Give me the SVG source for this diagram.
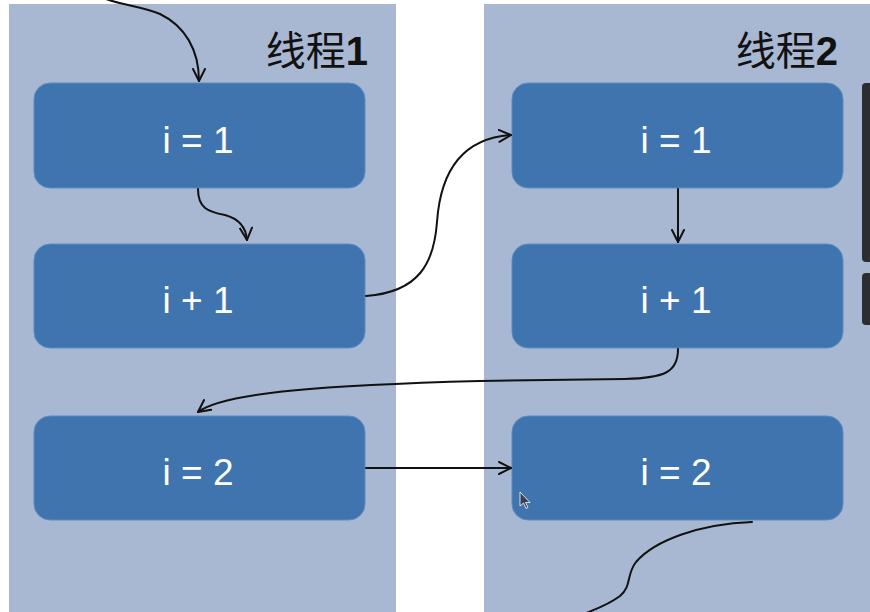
<svg xmlns="http://www.w3.org/2000/svg" width="870" height="612" viewBox="0 0 870 612">
<defs>
<style>
.panel{fill:#a8b8d3}
.box{fill:#3f74ae;stroke:#5f8cc2;stroke-width:1}
.lbl{font-family:"Liberation Sans",Arial,sans-serif;font-size:37px;fill:#ffffff;text-anchor:middle}
.title{font-family:"Noto Sans CJK SC","Liberation Sans",sans-serif;font-size:40px;fill:#111111;text-anchor:end}
.num{font-family:"Liberation Sans",Arial,sans-serif;font-weight:bold}
.conn{fill:none;stroke:#111111;stroke-width:2;stroke-linecap:round}
.bar{fill:#2b2d30}
</style>
<marker id="arr" viewBox="0 0 14 14" refX="13" refY="7" markerWidth="14" markerHeight="14" markerUnits="userSpaceOnUse" orient="auto">
<path d="M1,1 L13,7 L1,13" fill="none" stroke="#111111" stroke-width="2" stroke-linecap="round" stroke-linejoin="round"/>
</marker>
</defs>
<rect width="870" height="612" fill="#ffffff"/>
<g id="thread1">
<rect class="panel" x="9" y="4" width="387" height="608"/>
<text class="title" x="368" y="65">线程<tspan class="num">1</tspan></text>
</g>
<g id="thread2">
<rect class="panel" x="484" y="4" width="386" height="608"/>
<text class="title" x="838" y="65">线程<tspan class="num">2</tspan></text>
</g>
<g id="t1-a"><rect class="box" x="34" y="83" width="331" height="105" rx="16"/><text class="lbl" x="198" y="153">i = 1</text></g>
<g id="t1-b"><rect class="box" x="34" y="244" width="331" height="104" rx="16"/><text class="lbl" x="198" y="313">i + 1</text></g>
<g id="t1-c"><rect class="box" x="34" y="416" width="331" height="104" rx="16"/><text class="lbl" x="198" y="485">i = 2</text></g>
<g id="t2-a"><rect class="box" x="512" y="83" width="331" height="105" rx="16"/><text class="lbl" x="676" y="153">i = 1</text></g>
<g id="t2-b"><rect class="box" x="512" y="244" width="331" height="104" rx="16"/><text class="lbl" x="676" y="313">i + 1</text></g>
<g id="t2-c"><rect class="box" x="512" y="416" width="331" height="104" rx="16"/><text class="lbl" x="676" y="485">i = 2</text></g>
<g id="connectors">
<path class="conn" marker-end="url(#arr)" d="M103,-2 C125,6 140,6 160,14 C185,26 199,50 199,81"/>
<path class="conn" marker-end="url(#arr)" d="M198,189 C198,208 208,212 225,215 C240,219 246,228 247,240"/>
<path class="conn" marker-end="url(#arr)" d="M366,296 C420,292 434,262 437,222 C441,165 468,138 511,135"/>
<path class="conn" marker-end="url(#arr)" d="M678,189 L678,242"/>
<path class="conn" marker-end="url(#arr)" d="M678,349 C678,372 665,378 625,379 L480,381 C330,385 225,392 198,412"/>
<path class="conn" marker-end="url(#arr)" d="M366,468 L511,468"/>
<path class="conn" d="M752,522 C700,524 655,540 636,562 C626,575 632,586 620,596 C608,605 596,609 586,613"/>
</g>
<g id="overlay">
<rect class="bar" x="862" y="83" width="12" height="179" rx="4"/>
<rect class="bar" x="862" y="273" width="12" height="52" rx="4"/>
<path d="M520,492 L520,506 L523.5,503 L526,508.5 L528,507.5 L525.5,502.5 L530,502.5 Z" fill="#3a3f55" stroke="#ffffff" stroke-width="0.8"/>
</g>
</svg>
